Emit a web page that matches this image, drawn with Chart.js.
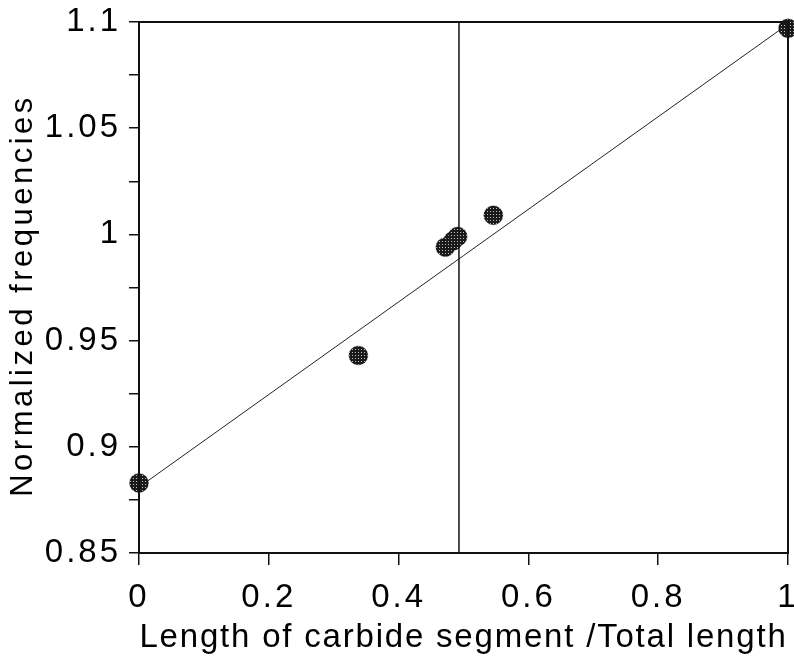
<!DOCTYPE html>
<html><head><meta charset="utf-8">
<script src="https://cdn.jsdelivr.net/npm/chart.js@4"></script>
<style>html,body{margin:0;padding:0;background:#fff}#wrap{width:794px;height:663px}</style>
</head><body><div id="wrap"><canvas id="c" width="794" height="663"></canvas></div>
<script>
const pointX = [0, 0.338, 0.472, 0.484, 0.491, 0.546, 1.0];
const pointY = [0.883, 0.943, 0.994, 0.997, 0.999, 1.009, 1.097];
const fitX = [0, 1];
const fitY = [0.881, 1.099];
const vlineX = [0.493, 0.493];
const vlineY = [0.85, 1.1];
const xTicks = [0, 0.2, 0.4, 0.6, 0.8, 1];
const yTickLabels = ['0.85', '0.9', '0.95', '1', '1.05', '1.1'];
const xTitle = 'Length of carbide segment /Total length';
const yTitle = 'Normalized frequencies';

function stipple(){
  const p = document.createElement('canvas'); p.width = 3; p.height = 3;
  const g = p.getContext('2d');
  g.fillStyle = '#1a1a1a'; g.fillRect(0,0,3,3);
  g.fillStyle = '#c0c0c0'; g.fillRect(1,1,1,1);
  return g.createPattern(p, 'repeat');
}
const ctx = document.getElementById('c').getContext('2d');
const pat = stipple();
const FONT = "'Liberation Sans', Arial, sans-serif";

// per-text letter spacing, imitating the spaced typesetting of the original
const origFill = ctx.fillText.bind(ctx);
ctx.fillText = function(t, x, y, mw){
  const s = String(t);
  let sp = '3px';
  if (s === xTitle) sp = '1.8px';
  else if (s === yTitle) { sp = '3.5px'; x -= 8; }
  const prev = ctx.letterSpacing;
  ctx.letterSpacing = sp;
  origFill(t, x, y);
  ctx.letterSpacing = prev;
};

const framePlugin = {
  id: 'frame',
  afterDatasetsDraw(chart){
    const a = chart.chartArea, c = chart.ctx;
    c.save(); c.strokeStyle = '#111'; c.lineWidth = 2;
    c.strokeRect(a.left, a.top, a.right - a.left, a.bottom - a.top);
    c.restore();
  }
};

new Chart(ctx, {
  type: 'scatter',
  data: { datasets: [
    { type:'line', data: fitX.map((x,i)=>({x, y: fitY[i]})), borderColor:'#222', borderWidth:1, pointRadius:0, fill:false, order:3 },
    { type:'line', data: vlineX.map((x,i)=>({x, y: vlineY[i]})), borderColor:'#111', borderWidth:1.5, pointRadius:0, fill:false, order:2 },
    { data: pointX.map((x,i)=>({x, y: pointY[i]})), backgroundColor: pat, borderColor: 'rgba(0,0,0,0.6)', borderWidth: 0.5, pointRadius: 9.5, order:1 }
  ]},
  options: {
    responsive:false, animation:false,
    layout: { autoPadding:false, padding: { top: 22, right: 6, left: 0, bottom: 0 } },
    plugins: { legend:{display:false}, tooltip:{enabled:false} },
    clip: false,
    scales: {
      x: { type:'linear', min:0, max:1,
        afterBuildTicks(s){ s.ticks = xTicks.map(v=>({value:v})); },
        afterFit(s){ s.height = 110; s.paddingLeft = 0; s.paddingRight = 0; },
        ticks:{ color:'#000', font:{family:FONT, size:33}, padding:13, maxRotation:0, autoSkip:false,
          callback:(v)=> String(v) },
        grid:{ drawOnChartArea:false, drawTicks:true, tickLength:12, color:'#111', lineWidth:1.5 },
        border:{ display:false },
        title:{ display:true, text:xTitle, color:'#000', font:{family:FONT, size:33}, padding:{top:0, bottom:5} }
      },
      y: { type:'linear', min:0.85, max:1.1,
        afterBuildTicks(s){ const t=[]; for(let k=0;k<=10;k++) t.push({value: 0.85 + k*0.025}); s.ticks = t; },
        afterFit(s){ s.width = 139; s.paddingTop = 0; s.paddingBottom = 0; },
        ticks:{ color:'#000', font:{family:FONT, size:33}, padding:8, autoSkip:false,
          callback:(v, i)=> (i % 2 === 0 ? yTickLabels[i/2] : '') },
        grid:{ drawOnChartArea:false, drawTicks:true, tickLength:10, color:'#111', lineWidth:1.5 },
        border:{ display:false },
        title:{ display:true, text:yTitle, color:'#000', font:{family:FONT, size:31}, padding:{top:5, bottom:0} }
      }
    }
  },
  plugins:[framePlugin]
});
</script></body></html>
